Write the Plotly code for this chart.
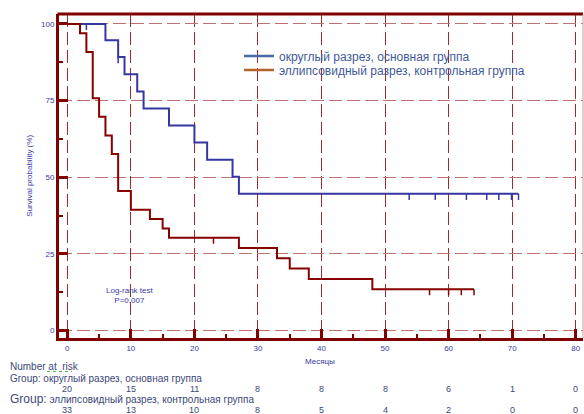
import plotly.graph_objects as go

# --- data -------------------------------------------------------------
group_round = "округлый разрез, основная группа"
group_ellipse = "эллипсовидный разрез, контрольная группа"

# Kaplan–Meier steps (months, survival %), основная группа
round_t = [0, 6, 8, 9, 11, 12, 16, 20, 22, 26, 27, 71]
round_s = [100, 94.7, 89.2, 83.6, 78.0, 72.4, 66.9, 61.3, 55.7, 50.2, 44.6, 44.6]
round_censored = [3, 8, 53.8, 57.9, 62.8, 66, 67.9, 69.9, 71]

# Kaplan–Meier steps, контрольная группа
ellipse_t = [0, 2, 3, 4, 5, 6, 7, 8, 10, 13, 15, 16, 27, 33, 35, 38, 48, 64]
ellipse_s = [100, 97.0, 90.9, 75.8, 69.7, 63.6, 57.6, 45.5, 39.4, 36.4, 33.3,
             30.3, 26.9, 23.6, 20.2, 16.8, 13.5, 13.5]
ellipse_censored = [23, 57, 60, 62, 64]

# number at risk table
risk_months = [0, 10, 20, 30, 40, 50, 60, 70, 80]
risk_round = [20, 15, 11, 8, 8, 8, 6, 1, 0]
risk_ellipse = [33, 13, 10, 8, 5, 4, 2, 0, 0]

x_ticks = [0, 10, 20, 30, 40, 50, 60, 70, 80]
y_ticks = [0, 25, 50, 75, 100]

# --- styling ----------------------------------------------------------
FONT = "Arial, Liberation Sans, sans-serif"
AXIS_RED = "#800000"
BLUE_CURVE = "#3636a2"
RED_CURVE = "#860000"
LABEL_BLUE = "#3a3aa6"
TABLE_TXT = "#3c4878"

X_RANGE = [-1.31, 81.15]
Y_RANGE = [-2.44, 103.26]
PLOT_TOP, PLOT_BOTTOM = 14, 338.5
PLOT_LEFT = 59


def surv_at(t, times, surv):
    """Right-continuous step value of a KM curve at time t."""
    val = surv[0]
    for ti, si in zip(times, surv):
        if ti <= t:
            val = si
    return val


def py(pixel_y):
    """Pixel row -> paper y."""
    return (PLOT_BOTTOM - pixel_y) / (PLOT_BOTTOM - PLOT_TOP)


def px(pixel_x):
    return (pixel_x - PLOT_LEFT) / (583 - PLOT_LEFT)


fig = go.Figure()

# survival curves
fig.add_trace(go.Scatter(x=round_t, y=round_s, mode="lines", line_shape="hv",
                         line=dict(color=BLUE_CURVE, width=2), showlegend=False,
                         hoverinfo="skip"))
fig.add_trace(go.Scatter(x=ellipse_t, y=ellipse_s, mode="lines", line_shape="hv",
                         line=dict(color=RED_CURVE, width=2), showlegend=False,
                         hoverinfo="skip"))

# censor marks: short ticks hanging below the curve
TICK_DOWN = 2.0
for cens, times, surv, col in [(round_censored, round_t, round_s, BLUE_CURVE),
                               (ellipse_censored, ellipse_t, ellipse_s, RED_CURVE)]:
    yv = [surv_at(c, times, surv) for c in cens]
    fig.add_trace(go.Scatter(
        x=cens, y=yv, mode="markers", marker=dict(size=1, opacity=0),
        error_y=dict(type="data", symmetric=False, array=[0] * len(cens),
                     arrayminus=[TICK_DOWN] * len(cens), width=0,
                     thickness=1.5, color=col),
        showlegend=False, hoverinfo="skip"))

# legend entries
fig.add_trace(go.Scatter(x=[None], y=[None], mode="lines", name=group_round,
                         line=dict(color="#4a6aa6", width=2.5), legend="legend"))
fig.add_trace(go.Scatter(x=[None], y=[None], mode="lines", name=group_ellipse,
                         line=dict(color="#b5652c", width=2.5), legend="legend2"))

legend_common = dict(xanchor="left", yanchor="middle", bgcolor="rgba(0,0,0,0)",
                     borderwidth=0, itemwidth=30,
                     font=dict(family=FONT, size=12, color="#3f5a9c"))
fig.update_layout(
    legend=dict(x=px(239), y=py(56), **legend_common),
    legend2=dict(x=px(239), y=py(70), **legend_common),
)

grid_common = dict(griddash="13px,5px", gridwidth=1, zeroline=False,
                   showline=True, linewidth=3, linecolor=AXIS_RED,
                   ticks="inside", ticklen=9, tickwidth=2.5, tickcolor=AXIS_RED,
                   tickfont=dict(family=FONT, size=8, color=LABEL_BLUE))

fig.update_xaxes(range=X_RANGE, tickvals=x_ticks, gridcolor="#a02a2a",
                 minor=dict(ticks="inside", ticklen=4, tickwidth=2,
                            tickcolor=AXIS_RED, dtick=5, tick0=0, showgrid=False),
                 **grid_common)
fig.update_yaxes(range=Y_RANGE, tickvals=y_ticks, gridcolor="#bf7070",
                 minor=dict(ticks="inside", ticklen=4, tickwidth=2,
                            tickcolor=AXIS_RED, dtick=12.5, tick0=0, showgrid=False),
                 **grid_common)

shapes = [
    # top border
    dict(type="line", xref="paper", yref="paper", x0=-0.003, x1=1, y0=1, y1=1,
         line=dict(color=AXIS_RED, width=3)),
    # right border
    dict(type="line", xref="paper", yref="paper", x0=1, x1=1, y0=0, y1=1,
         line=dict(color="#d09a9a", width=1)),
    # spell-check squiggle under "at risk"
    dict(type="line", xref="paper", yref="paper", x0=px(47), x1=px(72),
         y0=py(372), y1=py(372), line=dict(color="#48b048", width=1, dash="dot")),
]


def note(text, x, y, xref="paper", yref="paper", size=10, color=TABLE_TXT,
         xanchor="center", **kw):
    return dict(text=text, x=x, y=y, xref=xref, yref=yref, showarrow=False,
                xanchor=xanchor, yanchor="middle",
                font=dict(family=FONT, size=size, color=color), **kw)


annotations = [
    note("Survival probability (%)", px(30), py(176), size=8, color=LABEL_BLUE,
         textangle=-90),
    note("Месяцы", px(320), py(362.5), size=8, color=LABEL_BLUE),
    note("Log-rank test<br>P=0.007", 9.8, 11.3, xref="x", yref="y", size=8,
         color=LABEL_BLUE, align="center"),
    note("Number at  risk", px(8), py(367), xanchor="left"),
    note("Group: " + group_round, px(8), py(379), xanchor="left"),
    note("<span style='font-size:12px'>Group:</span> " + group_ellipse,
         px(8), py(400), xanchor="left"),
]
for m, n1, n2 in zip(risk_months, risk_round, risk_ellipse):
    annotations.append(note(str(n1), m, py(390), xref="x", size=9))
    annotations.append(note(str(n2), m, py(411), xref="x", size=9))

fig.update_layout(
    width=584, height=414,
    margin=dict(l=PLOT_LEFT, r=1, t=PLOT_TOP, b=414 - PLOT_BOTTOM),
    paper_bgcolor="white", plot_bgcolor="white",
    shapes=shapes, annotations=annotations,
    font=dict(family=FONT),
)

fig.write_html("out.html")
